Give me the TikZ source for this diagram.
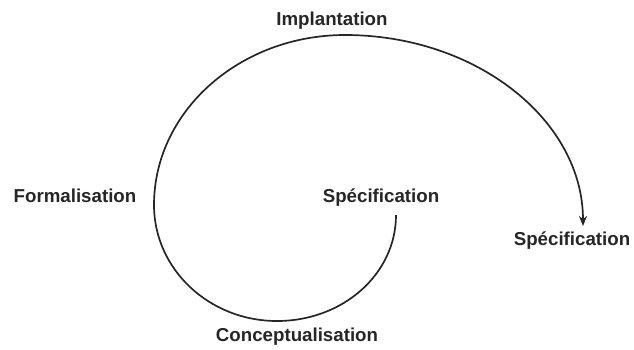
\documentclass[tikz,border=0pt]{standalone}
\usepackage{fontspec}
\setmainfont{Liberation Sans}
\usetikzlibrary{arrows.meta}
\begin{document}
\begin{tikzpicture}[x=1pt,y=-1pt,
  lbl/.style={font=\fontsize{18.7}{20}\selectfont\bfseries, anchor=base, inner sep=0pt, text=black!85},
  spiral/.style={line width=1.7pt, black!85}]
\useasboundingbox (0,0) rectangle (634,349);
\node[lbl] (impl) at (332,25) {Implantation};
\node[lbl] (form) at (75,202) {Formalisation};
\node[lbl] (spec1) at (381,202) {Spécification};
\node[lbl] (spec2) at (572,245) {Spécification};
\node[lbl] (conc) at (297,341) {Conceptualisation};
\coordinate (s) at (396,215);
\coordinate (b) at (277,321);
\coordinate (l) at (154,205);
\coordinate (t) at (345,35);
\coordinate (e) at (583,226);
\draw[spiral, -{Stealth[length=10pt,width=8pt]}]
  (s) .. controls (396,274) and (343,321) .. (b)
      .. controls (209,321) and (154,269) .. (l)
      .. controls (154,111) and (240,35) .. (t)
      .. controls (476,35) and (583,120) .. (e);
\end{tikzpicture}
\end{document}
